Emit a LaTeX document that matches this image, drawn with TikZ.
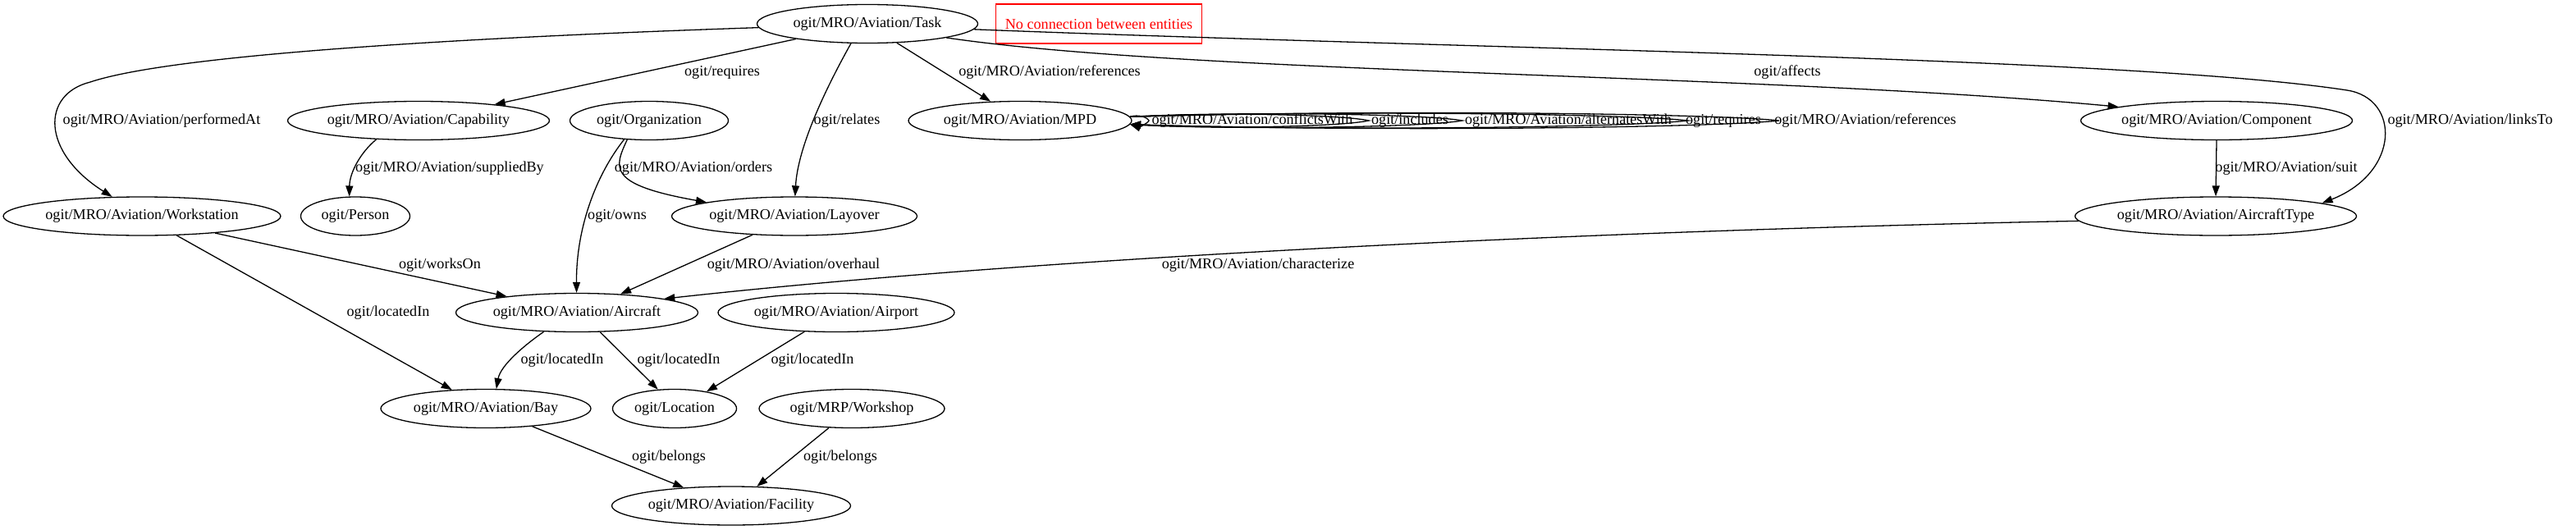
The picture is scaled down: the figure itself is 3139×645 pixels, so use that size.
\documentclass[tikz,border=0pt]{standalone}
\usepackage{fontspec}
\setmainfont{Liberation Serif}
\usetikzlibrary{shapes.geometric,arrows.meta}
\begin{document}
\begin{tikzpicture}[x=1pt,y=-1pt,
  ent/.style={draw, ellipse, line width=1.3pt, inner sep=0pt, minimum height=47pt, font=\fontsize{18.15}{20}\selectfont},
  lbl/.style={inner sep=0pt, font=\fontsize{18.15}{20}\selectfont},
  rel/.style={line width=1.3pt, -{Triangle[length=13pt,width=9pt]}},
]
\useasboundingbox (0,0) rectangle (3139,645);

% entities
\node[ent, minimum width=269pt] (task) at (1057,29) {ogit/MRO/Aviation/Task};
\node[lbl, draw=red, text=red, line width=1.3pt, minimum width=251pt, minimum height=48pt] (nocon) at (1339,29) {No connection between entities};
\node[ent, minimum width=319pt] (capability) at (510,147) {ogit/MRO/Aviation/Capability};
\node[ent, minimum width=193pt] (organization) at (791,147) {ogit/Organization};
\node[ent, minimum width=272pt] (mpd) at (1243,147) {ogit/MRO/Aviation/MPD};
\node[ent, minimum width=331pt] (component) at (2701,147) {ogit/MRO/Aviation/Component};
\node[ent, minimum width=338pt] (workstation) at (173,263.5) {ogit/MRO/Aviation/Workstation};
\node[ent, minimum width=133pt] (person) at (433,263.5) {ogit/Person};
\node[ent, minimum width=299pt] (layover) at (968,263.5) {ogit/MRO/Aviation/Layover};
\node[ent, minimum width=343pt] (aircrafttype) at (2700,263.5) {ogit/MRO/Aviation/AircraftType};
\node[ent, minimum width=295pt] (aircraft) at (703,381) {ogit/MRO/Aviation/Aircraft};
\node[ent, minimum width=288pt] (airport) at (1019,381) {ogit/MRO/Aviation/Airport};
\node[ent, minimum width=256pt] (bay) at (592,498) {ogit/MRO/Aviation/Bay};
\node[ent, minimum width=151pt] (location) at (822,498) {ogit/Location};
\node[ent, minimum width=226pt] (workshop) at (1038,498) {ogit/MRP/Workshop};
\node[ent, minimum width=291pt] (facility) at (891,616.5) {ogit/MRO/Aviation/Facility};

% edges
\draw[rel] (task.182) .. controls (500,48) and (200,70) .. (110,100) .. controls (50,115) and (50,185) .. (workstation.147);
\draw[rel] (task.192) -- (capability.12);
\draw[rel] (task.230) .. controls (1005,110) and (972,180) .. (layover.88);
\draw[rel] (task.327) -- (mpd.147);
\draw[rel] (task.350) .. controls (1450,90) and (2150,90) .. (component.172);
\draw[rel] (task.357) .. controls (1800,60) and (2600,70) .. (2860,110) .. controls (2925,120) and (2925,210) .. (aircrafttype.7);
\draw[rel] (capability.204) .. controls (440,185) and (426,210) .. (person.107);
\draw[rel] (organization.221) .. controls (748,205) and (740,225) .. (layover.171);
\draw[rel] (organization.217) .. controls (725,215) and (702,280) .. (aircraft.91);
\draw[rel] (workstation.347) -- (aircraft.167);
\draw[rel] (workstation.331) -- (bay.151);
\draw[rel] (layover.204) -- (aircraft.23);
\draw[rel] (aircrafttype.182) .. controls (2000,280) and (1300,310) .. (aircraft.9);
\draw[rel] (aircraft.210) .. controls (640,420) and (610,445) .. (bay.62);
\draw[rel] (aircraft.320) -- (location.131);
\draw[rel] (airport.211) -- (location.28);
\draw[rel] (bay.339) -- (facility.159);
\draw[rel] (workshop.220) -- (facility.37);
\draw[rel] (component.south) -- (aircrafttype.north);

% self loops on MPD
\draw[rel] (mpd.2) .. controls (1387,139) and (1398,143) .. (1400,147) .. controls (1398,151) and (1387,155) .. (mpd.358);
\draw[rel] (mpd.2) .. controls (1495,136) and (1639,140.4) .. (1668,147) .. controls (1639,153.6) and (1495,158) .. (mpd.358);
\draw[rel] (mpd.2) .. controls (1540,135) and (1742,139.8) .. (1782,147) .. controls (1742,154.2) and (1540,159) .. (mpd.358);
\draw[rel] (mpd.2) .. controls (1650,134) and (1989,139.2) .. (2057,147) .. controls (1989,154.8) and (1650,160) .. (mpd.358);
\draw[rel] (mpd.2) .. controls (1695,133) and (2089,138.6) .. (2168,147) .. controls (2089,155.4) and (1695,161) .. (mpd.358);

% edge labels
\node[lbl] (l-performedat) at (197,147) {ogit/MRO/Aviation/performedAt};
\node[lbl] (l-requires) at (880,88) {ogit/requires};
\node[lbl] (l-suppliedby) at (548,205) {ogit/MRO/Aviation/suppliedBy};
\node[lbl] (l-orders) at (845,205) {ogit/MRO/Aviation/orders};
\node[lbl] (l-relates) at (1032,147) {ogit/relates};
\node[lbl] (l-references) at (1279,88) {ogit/MRO/Aviation/references};
\node[lbl] (l-affects) at (2178,88) {ogit/affects};
\node[lbl] (l-linksto) at (3010,147) {ogit/MRO/Aviation/linksTo};
\node[lbl] (l-suit) at (2786,205) {ogit/MRO/Aviation/suit};
\node[lbl] (l-owns) at (752,263.5) {ogit/owns};
\node[lbl] (l-workson) at (536,323) {ogit/worksOn};
\node[lbl] (l-overhaul) at (967,323) {ogit/MRO/Aviation/overhaul};
\node[lbl] (l-characterize) at (1533,323) {ogit/MRO/Aviation/characterize};
\node[lbl] (l-wsbay) at (473,381) {ogit/locatedIn};
\node[lbl] (l-acbay) at (685,439) {ogit/locatedIn};
\node[lbl] (l-acloc) at (827,439) {ogit/locatedIn};
\node[lbl] (l-aploc) at (990,439) {ogit/locatedIn};
\node[lbl] (l-bayfac) at (815,557) {ogit/belongs};
\node[lbl] (l-wsfac) at (1024,557) {ogit/belongs};
\node[lbl] (l-conflicts) at (1526,147) {ogit/MRO/Aviation/conflictsWith};
\node[lbl] (l-includes) at (1718,147) {ogit/includes};
\node[lbl] (l-alternates) at (1911,147) {ogit/MRO/Aviation/alternatesWith};
\node[lbl] (l-mpdrequires) at (2100,147) {ogit/requires};
\node[lbl] (l-mpdrefs) at (2273,147) {ogit/MRO/Aviation/references};
\end{tikzpicture}
\end{document}
